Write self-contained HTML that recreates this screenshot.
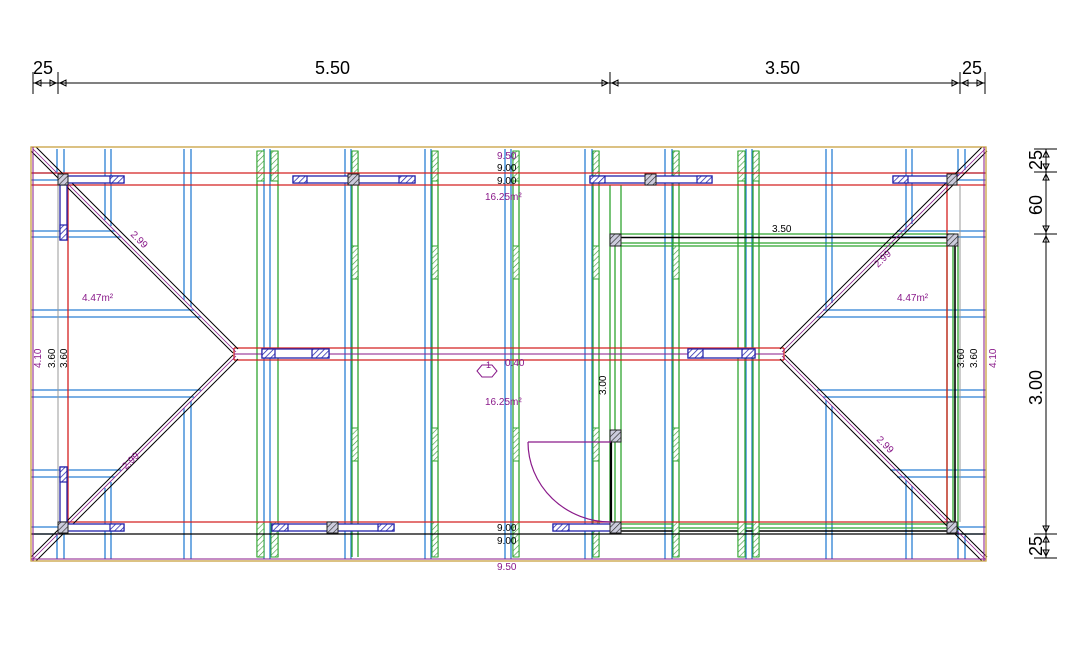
<!DOCTYPE html>
<html><head><meta charset="utf-8"><style>
html,body{margin:0;padding:0;background:#fff;}
svg{display:block;font-family:"Liberation Sans",sans-serif;}
</style></head><body>
<svg width="1074" height="654" viewBox="0 0 1074 654" xmlns="http://www.w3.org/2000/svg">
<defs>
<pattern id="hb" width="4" height="4" patternUnits="userSpaceOnUse" patternTransform="rotate(45)"><rect width="4" height="4" fill="#fff"/><line x1="0" y1="0" x2="0" y2="4" stroke="#2222aa" stroke-width="1.5"/></pattern>
<pattern id="hg" width="4" height="4" patternUnits="userSpaceOnUse" patternTransform="rotate(45)"><rect width="4" height="4" fill="#fff"/><line x1="0" y1="0" x2="0" y2="4" stroke="#3a9a3a" stroke-width="1.2"/></pattern>
<pattern id="hk" width="4" height="4" patternUnits="userSpaceOnUse" patternTransform="rotate(45)"><rect width="4" height="4" fill="#ccd"/><line x1="0" y1="0" x2="0" y2="4" stroke="#222" stroke-width="1.2"/></pattern>
</defs>

<g stroke="#000" stroke-width="1" fill="none">
<line x1="33" y1="83" x2="985" y2="83"/>
<line x1="33" y1="72" x2="33" y2="94"/><line x1="58" y1="72" x2="58" y2="94"/>
<line x1="610" y1="72" x2="610" y2="94"/><line x1="960" y1="72" x2="960" y2="94"/><line x1="985" y1="72" x2="985" y2="94"/>
<path d="M35,83 l6,-3 v6z M56,83 l-6,-3 v6z M60,83 l6,-3 v6z M608,83 l-6,-3 v6z M612,83 l6,-3 v6z M958,83 l-6,-3 v6z M962,83 l6,-3 v6z M983,83 l-6,-3 v6z"/>
<line x1="1046" y1="149" x2="1046" y2="558"/>
<line x1="1034" y1="149" x2="1057" y2="149"/><line x1="1034" y1="172" x2="1057" y2="172"/>
<line x1="1034" y1="234" x2="1057" y2="234"/><line x1="1034" y1="534" x2="1057" y2="534"/><line x1="1034" y1="558" x2="1057" y2="558"/>
<path d="M1046,151 l-3,6 h6z M1046,170 l-3,-6 h6z M1046,174 l-3,6 h6z M1046,232 l-3,-6 h6z M1046,236 l-3,6 h6z M1046,532 l-3,-6 h6z M1046,536 l-3,6 h6z M1046,556 l-3,-6 h6z"/>
</g>
<g font-size="18" fill="#000">
<text x="33" y="74">25</text><text x="315" y="74">5.50</text><text x="765" y="74">3.50</text><text x="962" y="74">25</text>
<text transform="translate(1042,170) rotate(-90)">25</text>
<text transform="translate(1042,215) rotate(-90)">60</text>
<text transform="translate(1042,405) rotate(-90)">3.00</text>
<text transform="translate(1042,556) rotate(-90)">25</text>
</g>

<g stroke="#2a7fd4" stroke-width="1.3">
<line x1="57" y1="149" x2="57" y2="172"/><line x1="64" y1="149" x2="64" y2="180"/>
<line x1="57" y1="534" x2="57" y2="559"/><line x1="64" y1="530" x2="64" y2="559"/>
<line x1="105" y1="149" x2="105" y2="220"/><line x1="111" y1="149" x2="111" y2="226"/>
<line x1="105" y1="488" x2="105" y2="559"/><line x1="111" y1="482" x2="111" y2="559"/>
<line x1="184" y1="149" x2="184" y2="300"/><line x1="191" y1="149" x2="191" y2="307"/>
<line x1="184" y1="408" x2="184" y2="559"/><line x1="191" y1="401" x2="191" y2="559"/>
<line x1="264" y1="149" x2="264" y2="559"/><line x1="270" y1="149" x2="270" y2="559"/>
<line x1="345" y1="149" x2="345" y2="559"/><line x1="351" y1="149" x2="351" y2="559"/>
<line x1="425" y1="149" x2="425" y2="559"/><line x1="431" y1="149" x2="431" y2="559"/>
<line x1="505" y1="149" x2="505" y2="559"/><line x1="511" y1="149" x2="511" y2="559"/>
<line x1="585" y1="149" x2="585" y2="559"/><line x1="592" y1="149" x2="592" y2="559"/>
<line x1="665" y1="149" x2="665" y2="559"/><line x1="672" y1="149" x2="672" y2="559"/>
<line x1="746" y1="149" x2="746" y2="559"/><line x1="752" y1="149" x2="752" y2="559"/>
<line x1="826" y1="149" x2="826" y2="309"/><line x1="832" y1="149" x2="832" y2="303"/>
<line x1="826" y1="400" x2="826" y2="559"/><line x1="832" y1="406" x2="832" y2="559"/>
<line x1="906" y1="149" x2="906" y2="230"/><line x1="912" y1="149" x2="912" y2="224"/>
<line x1="906" y1="480" x2="906" y2="559"/><line x1="912" y1="486" x2="912" y2="559"/>
<line x1="958" y1="149" x2="958" y2="176"/><line x1="965" y1="149" x2="965" y2="170"/>
<line x1="958" y1="530" x2="958" y2="559"/><line x1="965" y1="536" x2="965" y2="559"/>
<line x1="31" y1="173" x2="57" y2="173"/><line x1="31" y1="180" x2="60" y2="180"/>
<line x1="31" y1="231" x2="115" y2="231"/><line x1="31" y1="237" x2="121" y2="237"/>
<line x1="31" y1="310" x2="194" y2="310"/><line x1="31" y1="317" x2="201" y2="317"/>
<line x1="31" y1="390" x2="201" y2="390"/><line x1="31" y1="397" x2="194" y2="397"/>
<line x1="31" y1="470" x2="121" y2="470"/><line x1="31" y1="477" x2="115" y2="477"/>
<line x1="31" y1="527" x2="60" y2="527"/><line x1="31" y1="534" x2="57" y2="534"/>
<line x1="960" y1="173" x2="986" y2="173"/><line x1="958" y1="180" x2="986" y2="180"/>
<line x1="897" y1="231" x2="986" y2="231"/><line x1="890" y1="237" x2="986" y2="237"/>
<line x1="823" y1="310" x2="986" y2="310"/><line x1="817" y1="317" x2="986" y2="317"/>
<line x1="817" y1="390" x2="986" y2="390"/><line x1="823" y1="397" x2="986" y2="397"/>
<line x1="890" y1="470" x2="986" y2="470"/><line x1="897" y1="477" x2="986" y2="477"/>
<line x1="958" y1="527" x2="986" y2="527"/><line x1="960" y1="534" x2="986" y2="534"/>
</g>

<g stroke="#2fa52f" stroke-width="1.3" fill="none">
<line x1="257" y1="151" x2="257" y2="557"/><line x1="278" y1="151" x2="278" y2="557"/>
<line x1="352" y1="151" x2="352" y2="557"/><line x1="358" y1="151" x2="358" y2="557"/>
<line x1="432" y1="151" x2="432" y2="557"/><line x1="438" y1="151" x2="438" y2="557"/>
<line x1="513" y1="151" x2="513" y2="557"/><line x1="519" y1="151" x2="519" y2="557"/>
<line x1="593" y1="151" x2="593" y2="557"/><line x1="599" y1="151" x2="599" y2="557"/>
<line x1="610" y1="185" x2="610" y2="522"/><line x1="621" y1="185" x2="621" y2="234"/>
<line x1="673" y1="151" x2="673" y2="557"/><line x1="679" y1="151" x2="679" y2="557"/>
<line x1="738" y1="151" x2="738" y2="557"/><line x1="745" y1="151" x2="745" y2="557"/>
<line x1="753" y1="151" x2="753" y2="557"/><line x1="759" y1="151" x2="759" y2="557"/>
<line x1="610" y1="234" x2="955" y2="234"/><line x1="621" y1="243" x2="947" y2="243"/><line x1="621" y1="246" x2="947" y2="246"/>
<line x1="615" y1="246" x2="615" y2="522"/><line x1="621" y1="246" x2="621" y2="522"/>
<line x1="947" y1="246" x2="947" y2="522"/><line x1="953" y1="246" x2="953" y2="522"/><line x1="958" y1="246" x2="958" y2="530"/>
<line x1="621" y1="524" x2="947" y2="524"/><line x1="621" y1="528" x2="947" y2="528"/>
</g>
<g stroke="#000" stroke-width="1.6"><line x1="621" y1="237.5" x2="955" y2="237.5"/><line x1="955" y1="246" x2="955" y2="530"/><line x1="621" y1="531" x2="955" y2="531"/>
<line x1="611" y1="442" x2="611" y2="522" stroke-width="2.2"/></g>
<g fill="url(#hg)" stroke="#2fa52f" stroke-width="1">
<rect x="257" y="151" width="7" height="30"/><rect x="271" y="151" width="7" height="30"/>
<rect x="257" y="522" width="7" height="35"/><rect x="271" y="522" width="7" height="35"/>
<rect x="352" y="151" width="6" height="30"/><rect x="432" y="151" width="6" height="30"/><rect x="513" y="151" width="6" height="30"/>
<rect x="593" y="151" width="6" height="30"/><rect x="673" y="151" width="6" height="30"/><rect x="738" y="151" width="7" height="30"/><rect x="753" y="151" width="6" height="30"/>
<rect x="432" y="522" width="6" height="35"/><rect x="513" y="522" width="6" height="35"/><rect x="593" y="522" width="6" height="35"/>
<rect x="673" y="522" width="6" height="35"/><rect x="738" y="522" width="7" height="35"/><rect x="753" y="522" width="6" height="35"/>
<rect x="352" y="246" width="6" height="33"/><rect x="432" y="246" width="6" height="33"/><rect x="513" y="246" width="6" height="33"/><rect x="593" y="246" width="6" height="33"/><rect x="673" y="246" width="6" height="33"/>
<rect x="352" y="428" width="6" height="33"/><rect x="432" y="428" width="6" height="33"/><rect x="513" y="428" width="6" height="33"/><rect x="593" y="428" width="6" height="33"/><rect x="673" y="428" width="6" height="33"/>
</g>

<g stroke="#d42020" stroke-width="1.3" fill="none">
<line x1="31" y1="173" x2="986" y2="173"/><line x1="31" y1="185" x2="986" y2="185"/>
<line x1="60" y1="522" x2="955" y2="522"/>
<line x1="68" y1="185" x2="68" y2="522"/><line x1="947" y1="185" x2="947" y2="522"/>
<line x1="234" y1="348" x2="784" y2="348"/><line x1="234" y1="360" x2="784" y2="360"/>
<line x1="234" y1="348" x2="234" y2="360"/><line x1="784" y1="348" x2="784" y2="360"/>
</g>
<line x1="234" y1="354" x2="784" y2="354" stroke="#8a1a8a" stroke-width="1"/>
<g stroke="#999" stroke-width="1"><line x1="58" y1="185" x2="58" y2="522"/><line x1="960" y1="185" x2="960" y2="522"/></g>
<line x1="31" y1="534" x2="986" y2="534" stroke="#000" stroke-width="1.3"/>

<g fill="none">
<g stroke="#000" stroke-width="1"><path d="M31,151 L233,353 M36,147 L238,349"/><path d="M31,557 L233,355 M36,561 L238,359"/>
<path d="M987,151 L785,353 M982,147 L780,349"/><path d="M987,557 L785,355 M982,561 L780,359"/></g>
<g stroke="#8a1a8a" stroke-width="0.8"><path d="M33,149 L236,352 M33,559 L236,356 M985,149 L782,352 M985,559 L782,356"/></g>
</g>

<rect x="31" y="147" width="955" height="414" fill="none" stroke="#c8a040" stroke-width="1.3"/>
<line x1="31" y1="559" x2="986" y2="559" stroke="#8a1a8a" stroke-width="1"/>
<line x1="33" y1="147" x2="33" y2="561" stroke="#8a1a8a" stroke-width="1"/>
<line x1="984" y1="147" x2="984" y2="561" stroke="#8a1a8a" stroke-width="1"/>

<g stroke="#2222aa" stroke-width="1.3" fill="#fff">
<rect x="62" y="176" width="62" height="7"/><rect x="293" y="176" width="122" height="7"/><rect x="590" y="176" width="122" height="7"/><rect x="893" y="176" width="62" height="7"/>
<rect x="60" y="185" width="7" height="55"/><rect x="60" y="467" width="7" height="55"/>
<rect x="262" y="349" width="67" height="9"/><rect x="688" y="349" width="67" height="9"/>
<rect x="62" y="524" width="62" height="7"/>
<rect x="272" y="524" width="122" height="7"/><rect x="553" y="524" width="58" height="7"/>
</g>
<g fill="url(#hb)" stroke="#2222aa" stroke-width="1.2">
<rect x="110" y="176" width="14" height="7"/><rect x="293" y="176" width="14" height="7"/><rect x="399" y="176" width="16" height="7"/>
<rect x="590" y="176" width="15" height="7"/><rect x="697" y="176" width="15" height="7"/><rect x="893" y="176" width="15" height="7"/>
<rect x="60" y="225" width="7" height="15"/><rect x="60" y="467" width="7" height="15"/>
<rect x="262" y="349" width="13" height="9"/><rect x="312" y="349" width="17" height="9"/><rect x="688" y="349" width="15" height="9"/><rect x="742" y="349" width="13" height="9"/>
<rect x="110" y="524" width="14" height="7"/><rect x="272" y="524" width="16" height="7"/><rect x="378" y="524" width="16" height="7"/><rect x="553" y="524" width="16" height="7"/>
</g>
<g fill="url(#hk)" stroke="#222" stroke-width="1">
<rect x="58" y="174" width="10" height="11"/><rect x="947" y="174" width="10" height="11"/><rect x="348" y="174" width="11" height="11"/><rect x="645" y="174" width="11" height="11"/>
<rect x="58" y="522" width="10" height="11"/><rect x="947" y="522" width="10" height="11"/><rect x="327" y="522" width="11" height="11"/>
<rect x="610" y="234" width="11" height="12"/><rect x="947" y="234" width="11" height="12"/><rect x="610" y="430" width="11" height="12"/><rect x="610" y="522" width="11" height="11"/>
</g>

<g stroke="#8a1a8a" stroke-width="1.2" fill="none"><line x1="528" y1="442" x2="611" y2="442"/><path d="M528,442 A83,80 0 0 0 611,522"/></g>

<g font-size="10" fill="#8a1a8a">
<text x="497" y="159">9.50</text><text x="485" y="200">16.25m²</text><text x="485" y="405">16.25m²</text>
<text x="82" y="301">4.47m²</text><text x="897" y="301">4.47m²</text><text x="497" y="570">9.50</text>
<text transform="translate(41,368) rotate(-90)">4.10</text><text transform="translate(996,368) rotate(-90)">4.10</text>
<text transform="translate(130,235) rotate(45)">2.99</text><text transform="translate(126,470) rotate(-45)">2.99</text>
<text transform="translate(878,268) rotate(-45)">2.99</text><text transform="translate(876,440) rotate(45)">2.99</text>
<text x="486" y="368" font-size="9">1</text><text x="505" y="366">0.40</text>
</g>
<path d="M477,371 l5,-6 h10 l5,6 l-5,6 h-10z" fill="none" stroke="#8a1a8a" stroke-width="1"/>
<g font-size="10" fill="#000">
<text x="497" y="171">9.00</text><text x="497" y="184">9.00</text><text x="497" y="531">9.00</text><text x="497" y="544">9.00</text>
<text x="772" y="232">3.50</text>
<text transform="translate(55,368) rotate(-90)">3.60</text><text transform="translate(67,368) rotate(-90)">3.60</text>
<text transform="translate(964,368) rotate(-90)">3.60</text><text transform="translate(977,368) rotate(-90)">3.60</text>
<text transform="translate(606,395) rotate(-90)">3.00</text>
</g>
</svg>
</body></html>
